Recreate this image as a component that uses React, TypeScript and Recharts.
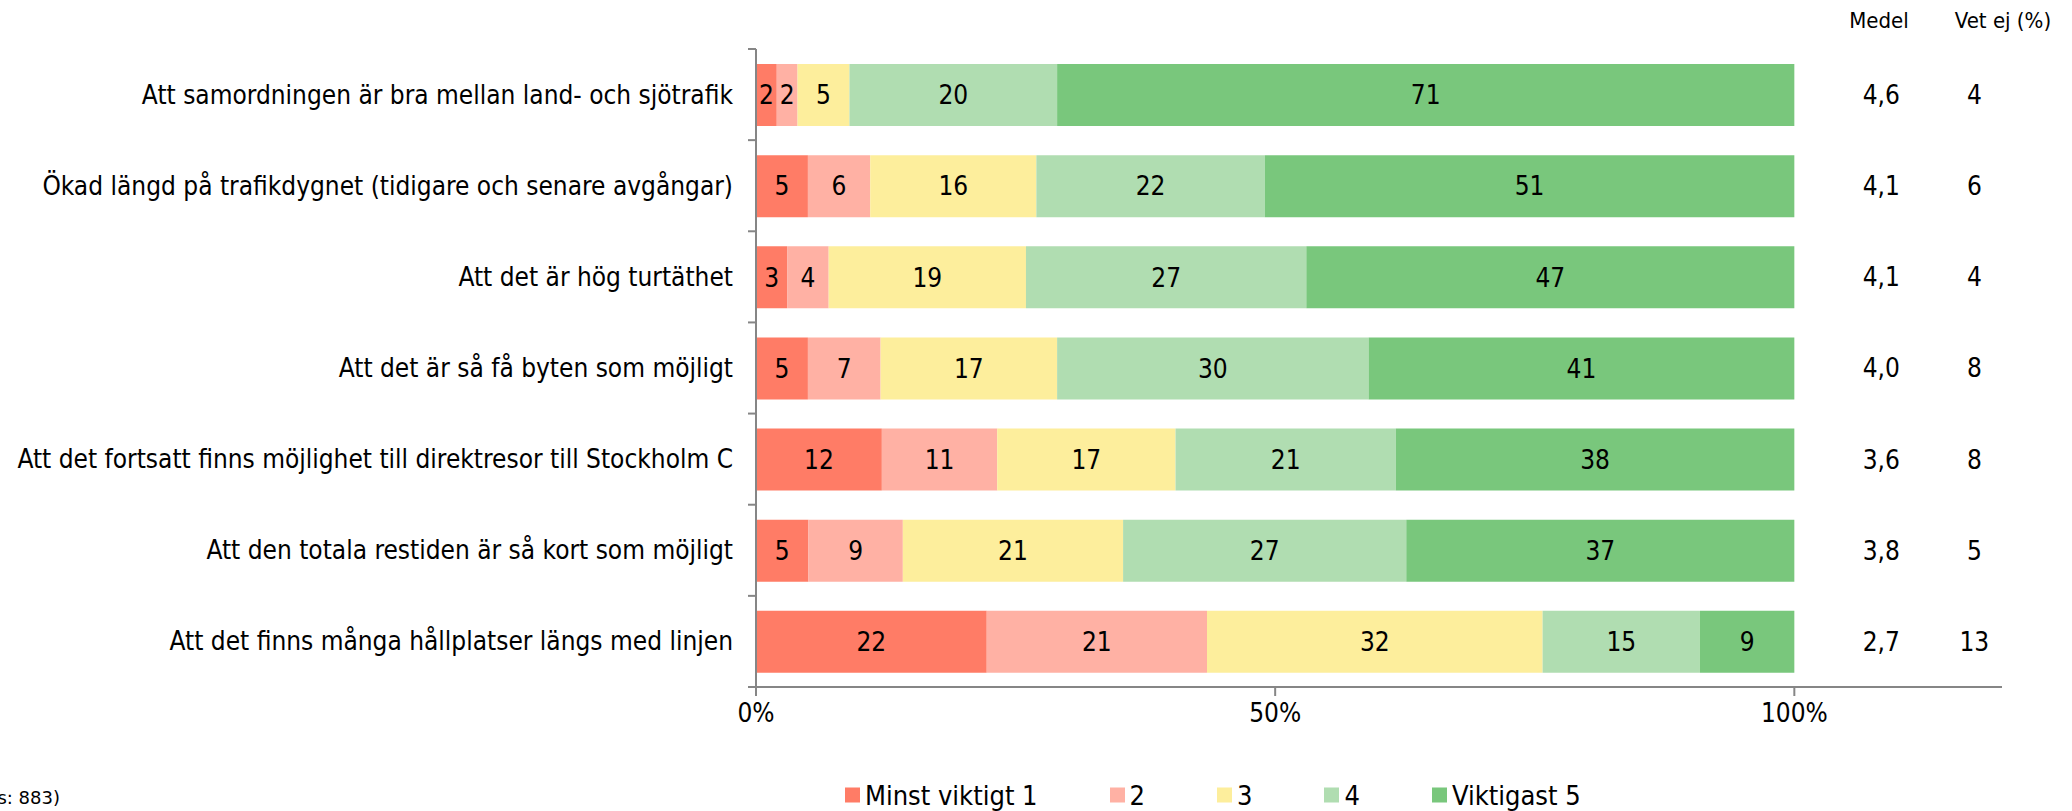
import React from 'react';
import { BarChart, Bar, XAxis, YAxis, LabelList } from 'recharts';

const categories = [
  'Att samordningen är bra mellan land- och sjötrafik',
  'Ökad längd på trafikdygnet (tidigare och senare avgångar)',
  'Att det är hög turtäthet',
  'Att det är så få byten som möjligt',
  'Att det fortsatt finns möjlighet till direktresor till Stockholm C',
  'Att den totala restiden är så kort som möjligt',
  'Att det finns många hållplatser längs med linjen',
];

const minstViktigt = [2, 5, 3, 5, 12, 5, 22];
const tva = [2, 6, 4, 7, 11, 9, 21];
const tre = [5, 16, 19, 17, 17, 21, 32];
const fyra = [20, 22, 27, 30, 21, 27, 15];
const viktigast = [71, 51, 47, 41, 38, 37, 9];
const medel = ['4,6', '4,1', '4,1', '4,0', '3,6', '3,8', '2,7'];
const vetEj = [4, 6, 4, 8, 8, 5, 13];

const xTicks = [0, 50, 100];
const seriesNames = ['Minst viktigt 1', '2', '3', '4', 'Viktigast 5'];
const seriesColors = ['#FF7C66', '#FFB1A4', '#FDEE9C', '#B0DDB1', '#79C77C'];
const seriesValues = [minstViktigt, tva, tre, fyra, viktigast];

const FONT = '"DejaVu Sans Condensed", "DejaVu Sans", sans-serif';
const AXIS_COLOR = '#868686';

// bars are drawn normalised to 100%, labels show the raw values
const data = categories.map((name, i) => {
  const total = seriesValues.reduce((s, arr) => s + arr[i], 0);
  const row: any = { name, medel: medel[i], vetEj: vetEj[i] };
  seriesValues.forEach((arr, k) => {
    row[`p${k}`] = (arr[i] / total) * 100;
    row[`v${k}`] = arr[i];
  });
  return row;
});

const TOP = 49;
const X_AXIS_H = 124;
const HEIGHT = 811;
const BAND = (HEIGHT - TOP - X_AXIS_H) / categories.length;

const CategoryTick = (props: any) => {
  const { x, y, payload, index } = props;
  return (
    <g>
      <text x={x - 23} y={y} textAnchor="end" dominantBaseline="central" fontSize={26} fill="#000">
        {payload.value}
      </text>
      <line x1={x - 8} x2={x} y1={y - BAND / 2} y2={y - BAND / 2} stroke={AXIS_COLOR} strokeWidth={2} />
      {index === categories.length - 1 && (
        <line x1={x - 8} x2={x} y1={y + BAND / 2} y2={y + BAND / 2} stroke={AXIS_COLOR} strokeWidth={2} />
      )}
    </g>
  );
};

const PercentTick = (props: any) => {
  const { x, y, payload } = props;
  return (
    <text x={x} y={y + 24} textAnchor="middle" fontSize={26} fill="#000">
      {`${payload.value}%`}
    </text>
  );
};

const sideLabel = (offset: number) => (props: any) => {
  const { x, y, width, height, value } = props;
  return (
    <text x={x + width + offset} y={y + height / 2} textAnchor="middle" dominantBaseline="central" fontSize={26} fill="#000">
      {value}
    </text>
  );
};

export default function App() {
  return (
    <div style={{ position: 'absolute', left: 0, top: 0, width: 2072, height: HEIGHT, fontFamily: FONT, background: '#fff', overflow: 'hidden' }}>
      <BarChart
        width={2072}
        height={HEIGHT}
        data={data}
        layout="vertical"
        margin={{ top: TOP, right: 70, bottom: 0, left: 0 }}
        style={{ fontFamily: FONT }}
      >
        <XAxis
          type="number"
          domain={[0, 120]}
          ticks={xTicks}
          height={X_AXIS_H}
          axisLine={{ stroke: AXIS_COLOR, strokeWidth: 2 }}
          tickLine={{ stroke: AXIS_COLOR, strokeWidth: 2 }}
          tickSize={9}
          tick={<PercentTick />}
        />
        <YAxis
          type="category"
          dataKey="name"
          width={756}
          interval={0}
          tickSize={0}
          tickMargin={0}
          axisLine={{ stroke: AXIS_COLOR, strokeWidth: 2 }}
          tickLine={false}
          tick={<CategoryTick />}
        />
        {seriesNames.map((n, k) => (
          <Bar key={n} dataKey={`p${k}`} name={n} stackId="a" fill={seriesColors[k]} barSize={62} isAnimationActive={false}>
            <LabelList dataKey={`v${k}`} position="center" fill="#000" fontSize={26} />
            {k === seriesNames.length - 1 && <LabelList dataKey="medel" content={sideLabel(87)} />}
            {k === seriesNames.length - 1 && <LabelList dataKey="vetEj" content={sideLabel(180)} />}
          </Bar>
        ))}
      </BarChart>

      <div style={{ position: 'absolute', left: 1879, top: 21, transform: 'translate(-50%, -50%)', fontSize: 22, lineHeight: 1, whiteSpace: 'nowrap' }}>Medel</div>
      <div style={{ position: 'absolute', left: 2003, top: 21, transform: 'translate(-50%, -50%)', fontSize: 22, lineHeight: 1, whiteSpace: 'nowrap' }}>Vet ej (%)</div>

      <div style={{ position: 'absolute', left: 845, top: 795, transform: 'translateY(-50%)', display: 'flex', alignItems: 'center', gap: 72, fontSize: 27, lineHeight: 1 }}>
        {seriesNames.map((n, k) => (
          <div key={n} style={{ display: 'flex', alignItems: 'center', whiteSpace: 'nowrap' }}>
            <span style={{ display: 'inline-block', width: 15, height: 15, background: seriesColors[k], marginRight: 5 }} />
            <span>{n}</span>
          </div>
        ))}
      </div>

      <div style={{ position: 'absolute', right: 2072 - 60, top: 798, transform: 'translateY(-50%)', fontSize: 18, lineHeight: 1, fontFamily: '"DejaVu Sans", sans-serif', whiteSpace: 'nowrap' }}>
        (Bas: 883)
      </div>
    </div>
  );
}
